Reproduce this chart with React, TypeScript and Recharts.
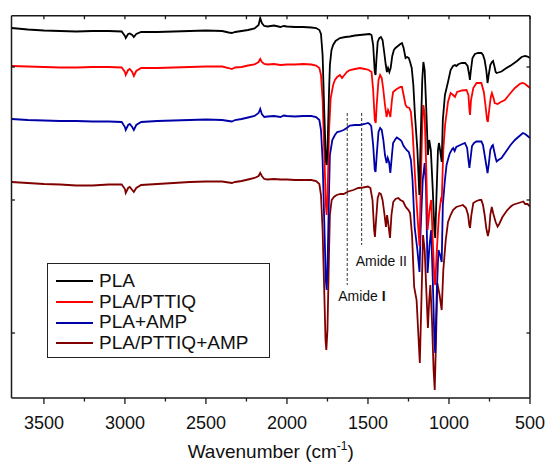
import React from 'react';
import { LineChart, Line, XAxis, YAxis, ReferenceLine, Legend } from 'recharts';

// Wavenumber (cm-1), offset transmittance (a.u.)
const pla: [number, number][] = [
  [3700, 370], [3600, 368.5], [3500, 367.5], [3400, 367], [3300, 366.5], [3200, 367], [3100, 367], [3020, 366.5],
  [3000, 362], [2995, 360], [2980, 364], [2970, 364.5], [2955, 363], [2945, 361], [2930, 364], [2900, 366],
  [2800, 366], [2700, 366.5], [2600, 367], [2500, 367.5], [2400, 367], [2360, 365.5], [2340, 365], [2320, 366],
  [2280, 367], [2240, 368], [2200, 369.5], [2175, 373], [2165, 380], [2155, 375], [2140, 372], [2120, 371.5],
  [2080, 372.5], [2040, 371], [2020, 372], [2000, 371.5], [1950, 371], [1900, 371], [1850, 370.5], [1820, 370],
  [1800, 368], [1790, 364], [1780, 343], [1770, 288], [1760, 238], [1755, 233], [1750, 248], [1740, 308],
  [1735, 333], [1725, 348], [1715, 353], [1700, 357], [1673, 360], [1640, 361], [1612, 361.5], [1580, 362.5],
  [1550, 363], [1520, 363.5], [1490, 364], [1478, 363], [1468, 353], [1458, 326], [1453, 323], [1448, 338],
  [1440, 356], [1430, 360], [1420, 361], [1410, 358], [1400, 346], [1390, 333], [1383, 326], [1376, 330],
  [1368, 326], [1360, 330], [1350, 342], [1340, 348], [1330, 350], [1315, 352], [1300, 354], [1290, 355],
  [1280, 350], [1268, 340], [1258, 341], [1248, 340], [1240, 336], [1230, 330], [1220, 313], [1210, 283],
  [1195, 248], [1183, 203], [1175, 258], [1165, 318], [1158, 336], [1150, 328], [1140, 288], [1130, 243],
  [1122, 258], [1112, 248], [1100, 208], [1090, 168], [1085, 160], [1078, 198], [1068, 248], [1062, 255],
  [1055, 248], [1045, 236], [1038, 278], [1025, 303], [1006, 316], [990, 328], [975, 332], [963, 333],
  [955, 332], [940, 334], [920, 335], [900, 335], [885, 332], [875, 323], [871, 318], [866, 326], [855, 340],
  [840, 344], [820, 345], [800, 345], [790, 343], [780, 338], [770, 328], [762, 315], [755, 323], [745, 333],
  [735, 336], [728, 337], [720, 332], [712, 326], [705, 325], [695, 325.5], [676, 326.5], [650, 329.5],
  [614, 333], [580, 337], [552, 341], [530, 342], [515, 341.5], [500, 340],
];

const plaPttiq: [number, number][] = [
  [3700, 332], [3600, 331.5], [3500, 331], [3400, 330.5], [3300, 330.5], [3200, 331], [3100, 331], [3020, 330.5],
  [3000, 326], [2995, 323], [2980, 328], [2970, 329], [2955, 326], [2945, 322], [2930, 327], [2900, 330],
  [2800, 330], [2700, 330.5], [2600, 331], [2500, 331.5], [2400, 331.5], [2360, 330], [2340, 329], [2320, 330.5],
  [2280, 331], [2240, 332.5], [2200, 333.5], [2175, 336], [2165, 339], [2155, 336], [2140, 334], [2120, 333.5],
  [2080, 334], [2040, 333], [2000, 333.5], [1950, 333.5], [1900, 334], [1850, 333.5], [1820, 332.5], [1800, 330],
  [1790, 323], [1780, 298], [1770, 248], [1760, 193], [1755, 183], [1750, 198], [1740, 268], [1730, 300],
  [1715, 313], [1704, 318], [1690, 321], [1673, 323], [1660, 320], [1650, 322], [1630, 326], [1612, 328],
  [1580, 329], [1550, 330], [1520, 329], [1495, 328], [1478, 326], [1468, 308], [1458, 278], [1452, 275],
  [1446, 293], [1435, 318], [1425, 323], [1415, 320], [1405, 308], [1395, 293], [1385, 281], [1376, 288],
  [1368, 285], [1362, 281], [1352, 298], [1345, 306], [1330, 308], [1322, 309], [1300, 311], [1290, 311],
  [1280, 303], [1268, 293], [1260, 291], [1245, 290], [1235, 286], [1225, 268], [1210, 223], [1195, 183],
  [1182, 152], [1175, 208], [1165, 273], [1158, 293], [1150, 283], [1140, 228], [1132, 168], [1120, 188],
  [1110, 198], [1100, 158], [1090, 118], [1085, 113], [1075, 148], [1062, 183], [1050, 198], [1045, 196],
  [1035, 248], [1024, 273], [1006, 296], [990, 305], [975, 303], [963, 301], [950, 306], [920, 307.5],
  [892, 308], [880, 303], [874, 288], [870, 283], [864, 298], [850, 310], [830, 315], [810, 315], [800, 315],
  [785, 306], [775, 293], [765, 278], [760, 276], [752, 288], [742, 301], [735, 305], [725, 300], [718, 295],
  [700, 294], [680, 296], [655, 298], [620, 305], [593, 310], [560, 314.5], [544, 315], [530, 314], [515, 312],
  [500, 310],
];

const plaAmp: [number, number][] = [
  [3700, 279], [3600, 278], [3500, 277.5], [3400, 277], [3300, 277], [3200, 276.5], [3100, 276.5], [3020, 276],
  [3000, 271], [2995, 268], [2980, 273], [2970, 274], [2955, 271], [2945, 268], [2930, 273], [2900, 276],
  [2800, 277], [2700, 277.5], [2600, 278], [2500, 278.5], [2400, 278], [2360, 277], [2340, 276.5], [2320, 278],
  [2280, 279], [2240, 280.5], [2200, 282], [2175, 285], [2165, 289], [2155, 284], [2140, 281], [2120, 281.5],
  [2080, 282], [2040, 281], [2020, 282.5], [2000, 282], [1950, 281.5], [1900, 282], [1850, 282], [1820, 281],
  [1800, 278], [1790, 268], [1780, 238], [1770, 178], [1760, 118], [1755, 108], [1750, 128], [1740, 208],
  [1735, 243], [1720, 258], [1704, 263], [1690, 266], [1673, 266.5], [1650, 268], [1631, 270], [1612, 272.5],
  [1580, 273], [1550, 273], [1520, 274], [1500, 275], [1490, 274], [1480, 272], [1468, 253], [1458, 228],
  [1453, 226], [1446, 243], [1435, 266], [1425, 270], [1415, 268], [1405, 258], [1395, 243], [1385, 235],
  [1378, 240], [1370, 236], [1362, 225], [1352, 243], [1345, 255], [1330, 259], [1322, 260.5], [1300, 258],
  [1292, 256.5], [1280, 252], [1262, 248], [1248, 246], [1235, 238], [1225, 218], [1212, 171], [1195, 148],
  [1182, 126], [1175, 168], [1162, 218], [1150, 235], [1142, 213], [1132, 125], [1120, 153], [1110, 168],
  [1100, 118], [1090, 58], [1085, 45], [1075, 108], [1065, 148], [1055, 143], [1045, 136], [1038, 193],
  [1025, 218], [1015, 233], [1000, 242], [994, 245], [980, 249], [974, 250], [965, 247], [955, 251], [930, 253],
  [902, 255], [888, 250], [880, 238], [874, 230], [868, 238], [858, 252], [845, 255], [830, 256.5], [800, 256.5],
  [790, 253], [780, 243], [770, 233], [762, 225], [755, 233], [745, 248], [735, 252], [729, 253], [720, 246],
  [712, 240], [706, 236.5], [695, 238], [676, 240], [650, 246], [620, 253], [593, 258], [565, 262], [544, 265],
  [530, 264], [515, 262], [500, 260],
];

const plaPttiqAmp: [number, number][] = [
  [3700, 216], [3600, 215], [3500, 214], [3400, 213.5], [3300, 212.5], [3200, 212.5], [3100, 213.5], [3020, 213.5],
  [3000, 209], [2995, 205], [2980, 210], [2970, 211], [2955, 208], [2945, 206], [2930, 210], [2900, 213],
  [2800, 214], [2700, 215], [2600, 216], [2500, 216.5], [2400, 216.5], [2360, 215.5], [2340, 215], [2320, 216],
  [2280, 217], [2240, 218.5], [2200, 220], [2175, 222], [2165, 225], [2155, 222], [2140, 219], [2120, 218.5],
  [2080, 219], [2040, 218.5], [2000, 218.5], [1950, 218], [1900, 218], [1850, 218], [1820, 217], [1800, 214],
  [1790, 203], [1780, 168], [1770, 108], [1762, 58], [1757, 48], [1750, 68], [1740, 148], [1735, 183],
  [1724, 198], [1710, 201], [1693, 203], [1670, 204], [1650, 204], [1622, 206.5], [1590, 208], [1560, 210],
  [1530, 210.5], [1500, 211.5], [1485, 210], [1472, 198], [1462, 168], [1457, 161], [1450, 178], [1440, 200],
  [1430, 205], [1420, 204], [1410, 198], [1400, 186], [1389, 171], [1382, 183], [1376, 176], [1364, 160],
  [1355, 183], [1344, 196], [1330, 199], [1313, 200], [1300, 198], [1283, 196.5], [1270, 192], [1262, 190],
  [1250, 188], [1240, 185], [1228, 163], [1215, 111], [1200, 98], [1180, 35], [1170, 98], [1160, 163],
  [1150, 148], [1140, 108], [1130, 70], [1122, 98], [1115, 113], [1105, 78], [1095, 28], [1088, 8], [1080, 58],
  [1072, 115], [1058, 103], [1045, 88], [1035, 128], [1020, 158], [1006, 176], [990, 183], [975, 188],
  [955, 191], [935, 192], [914, 193], [895, 190], [882, 183], [875, 173], [870, 170], [862, 183], [850, 195],
  [830, 197], [810, 198], [800, 198], [790, 193], [780, 183], [770, 170], [760, 162], [752, 168], [745, 183],
  [736, 191], [726, 184], [712, 176], [700, 171.5], [690, 174], [670, 181], [640, 188], [615, 192], [600, 193.5],
  [570, 195], [541, 196.5], [530, 194], [515, 194], [500, 191.5],
];

const seriesNames = ['PLA', 'PLA/PTTIQ', 'PLA+AMP', 'PLA/PTTIQ+AMP'];
const seriesColors = ['#000000', '#ff0000', '#0000a8', '#800000'];
const seriesData = [pla, plaPttiq, plaAmp, plaPttiqAmp];

const xMajorTicks = [3500, 3000, 2500, 2000, 1500, 1000, 500];
const xMinorTicks = [3250, 2750, 2250, 1750, 1250, 750];
const xTicks = [...xMajorTicks, ...xMinorTicks].sort((a, b) => b - a);
const yTicks = [65, 198, 331];
const xDomain: [number, number] = [500, 3700];
const yDomain: [number, number] = [0, 382.3];

// Amide markers
const amideMarks: { w: number; top: number; bottom: number; label: string; bold: boolean; dx: number; dy: number }[] = [
  { w: 1628, top: 285, bottom: 113, label: 'I', bold: true, dx: -9, dy: 16 },
  { w: 1539, top: 285, bottom: 153, label: 'II', bold: false, dx: -6, dy: 21 },
];

const FONT = '"Liberation Sans", Arial, Helvetica, sans-serif';
const AXIS = '#1a1a1a';

const toPoints = (arr: [number, number][]) => arr.map(([w, t]) => ({ w, t }));

const BottomTick = (props: any) => {
  const { x, y, payload } = props;
  const major = xMajorTicks.includes(payload.value);
  return (
    <g>
      <line x1={x} x2={x} y1={y} y2={y + (major ? 6 : 3.5)} stroke={AXIS} strokeWidth={1.3} />
      {major && (
        <text x={x} y={y + 31} textAnchor="middle" fontSize={18} fontFamily={FONT} fill="#111">
          {payload.value}
        </text>
      )}
    </g>
  );
};

const TopTick = (props: any) => {
  const { x, y } = props;
  return <line x1={x} x2={x} y1={y} y2={y + 3.5} stroke={AXIS} strokeWidth={1.3} />;
};

const LeftTick = (props: any) => {
  const { x, y } = props;
  return <line x1={x} x2={x + 3.5} y1={y} y2={y} stroke={AXIS} strokeWidth={1.3} />;
};

const RightTick = (props: any) => {
  const { x, y } = props;
  return <line x1={x} x2={x - 3.5} y1={y} y2={y} stroke={AXIS} strokeWidth={1.3} />;
};

const XTitle = (props: any) => {
  const { viewBox } = props;
  const cx = viewBox.x + viewBox.width / 2;
  return (
    <text x={cx} y={viewBox.y + 60} textAnchor="middle" fontSize={19} fontFamily={FONT} fill="#111">
      Wavenumber (cm
      <tspan fontSize={12} dy={-8}>-1</tspan>
      <tspan dy={8}>)</tspan>
    </text>
  );
};

const LegendBox = () => (
  <div
    style={{
      border: '1px solid #222',
      width: 223,
      height: 95,
      boxSizing: 'border-box',
      paddingTop: 7,
      background: '#fff',
      fontFamily: FONT,
      fontSize: 19,
      color: '#111',
    }}
  >
    {seriesNames.map((n, i) => (
      <div key={n} style={{ display: 'flex', alignItems: 'center', height: 20.7, lineHeight: '20.7px' }}>
        <span style={{ display: 'inline-block', width: 37, marginLeft: 8, borderTop: `2px solid ${seriesColors[i]}` }} />
        <span style={{ marginLeft: 6, whiteSpace: 'nowrap' }}>{n}</span>
      </div>
    ))}
  </div>
);

export default function App() {
  const order = [3, 2, 1, 0];
  return (
    <div style={{ position: 'absolute', left: 0, top: 0, background: '#fff' }}>
      <LineChart width={548} height={465} margin={{ top: 14.7, right: 17, bottom: 17, left: 10.5 }}>
        <XAxis
          dataKey="w"
          type="number"
          domain={xDomain}
          reversed
          allowDataOverflow
          ticks={xTicks}
          interval={0}
          height={50}
          tickSize={0}
          tickMargin={0}
          tickLine={false}
          tick={<BottomTick />}
          axisLine={{ stroke: AXIS, strokeWidth: 1.5 }}
          label={<XTitle />}
        />
        <XAxis
          xAxisId="top"
          orientation="top"
          dataKey="w"
          type="number"
          domain={xDomain}
          reversed
          allowDataOverflow
          ticks={xTicks}
          interval={0}
          height={1}
          tickSize={0}
          tickMargin={0}
          tickLine={false}
          tick={<TopTick />}
          axisLine={{ stroke: AXIS, strokeWidth: 1.5 }}
        />
        <YAxis
          type="number"
          domain={yDomain}
          allowDataOverflow
          ticks={yTicks}
          interval={0}
          width={1}
          tickSize={0}
          tickMargin={0}
          tickLine={false}
          tick={<LeftTick />}
          axisLine={{ stroke: AXIS, strokeWidth: 1.5 }}
        />
        <YAxis
          yAxisId="right"
          orientation="right"
          type="number"
          domain={yDomain}
          allowDataOverflow
          ticks={yTicks}
          interval={0}
          width={1}
          tickSize={0}
          tickMargin={0}
          tickLine={false}
          tick={<RightTick />}
          axisLine={{ stroke: AXIS, strokeWidth: 1.5 }}
        />
        {order.map((i) => (
          <Line
            key={seriesNames[i]}
            data={toPoints(seriesData[i])}
            dataKey="t"
            name={seriesNames[i]}
            stroke={seriesColors[i]}
            strokeWidth={1.8}
            dot={false}
            activeDot={false}
            type="linear"
            isAnimationActive={false}
          />
        ))}
        {amideMarks.map((m) => (
          <ReferenceLine
            key={m.label}
            segment={[{ x: m.w, y: m.top }, { x: m.w, y: m.bottom }]}
            stroke="#333"
            strokeWidth={1}
            strokeDasharray="3 2"
            label={(p: any) => {
              const vb = p.viewBox || {};
              const bx = vb.x ?? 0;
              const by = (vb.y ?? 0) + (vb.height ?? 0);
              return (
                <text x={bx + m.dx} y={by + m.dy} fontSize={14} fontFamily={FONT} fill="#111">
                  Amide <tspan fontWeight={m.bold ? 'bold' : 'normal'}>{m.label}</tspan>
                </text>
              );
            }}
          />
        ))}
        <Legend
          layout="vertical"
          align="center"
          verticalAlign="middle"
          content={<LegendBox />}
          wrapperStyle={{ left: 47, top: 263, width: 223, height: 95 }}
        />
      </LineChart>
    </div>
  );
}
